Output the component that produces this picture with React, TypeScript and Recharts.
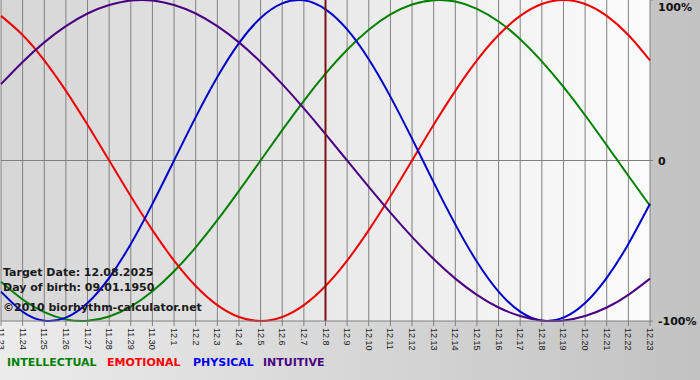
import { CartesianGrid, Line, LineChart, ReferenceLine, XAxis, YAxis } from 'recharts';

// days shown on the axis (month.day)
const days = [
  '11.23', '11.24', '11.25', '11.26', '11.27', '11.28', '11.29', '11.30',
  '12.1', '12.2', '12.3', '12.4', '12.5', '12.6', '12.7', '12.8', '12.9', '12.10',
  '12.11', '12.12', '12.13', '12.14', '12.15', '12.16', '12.17', '12.18', '12.19',
  '12.20', '12.21', '12.22', '12.23',
];

const physical = [
  -0.817, -0.942, -0.998, -0.979, -0.888, -0.731, -0.52, -0.27, 0, 0.27, 0.52,
  0.731, 0.888, 0.979, 0.998, 0.942, 0.817, 0.631, 0.398, 0.136, -0.136, -0.398,
  -0.631, -0.817, -0.942, -0.998, -0.979, -0.888, -0.731, -0.52, -0.27,
];
const emotional = [
  0.901, 0.782, 0.624, 0.434, 0.223, 0, -0.223, -0.434, -0.624, -0.782, -0.901,
  -0.975, -1, -0.975, -0.901, -0.782, -0.624, -0.434, -0.223, 0, 0.223, 0.434,
  0.624, 0.782, 0.901, 0.975, 1, 0.975, 0.901, 0.782, 0.624,
];
const intellectual = [
  -0.756, -0.866, -0.945, -0.99, -0.999, -0.972, -0.91, -0.815, -0.69, -0.541,
  -0.372, -0.189, 0, 0.189, 0.372, 0.541, 0.69, 0.815, 0.91, 0.972, 0.999, 0.99,
  0.945, 0.866, 0.756, 0.618, 0.458, 0.282, 0.095, -0.095, -0.282,
];
const intuitive = [
  0.476, 0.614, 0.736, 0.837, 0.916, 0.969, 0.997, 0.997, 0.969, 0.916, 0.837,
  0.736, 0.614, 0.476, 0.325, 0.165, 0, -0.165, -0.325, -0.476, -0.614, -0.736,
  -0.837, -0.916, -0.969, -0.997, -0.997, -0.969, -0.916, -0.837, -0.736,
];

const targetDay = '12.8';
const infoLines = ['Target Date: 12.08.2025', 'Day of birth: 09.01.1950', '\u00a92010 biorhythm-calculator.net'];

const legendItems = [
  { label: 'INTELLECTUAL', color: '#008000', left: 7 },
  { label: 'EMOTIONAL', color: '#ff0000', left: 107 },
  { label: 'PHYSICAL', color: '#0000ee', left: 193 },
  { label: 'INTUITIVE', color: '#4b0082', left: 263 },
];

const data = days.map((day, i) => ({
  day,
  intellectual: intellectual[i],
  emotional: emotional[i],
  physical: physical[i],
  intuitive: intuitive[i],
}));

const BOLD = '"DejaVu Sans", Verdana, sans-serif';

const DayTick = ({ x, y, payload }: any) => (
  <text
    x={x}
    y={y}
    transform={`rotate(90 ${x} ${y})`}
    textAnchor="start"
    dominantBaseline="central"
    fontFamily='"Liberation Sans", Arial, sans-serif'
    fontSize={9}
    fill="#1a1a1a"
  >
    {payload.value}
  </text>
);

// top label sits inside the chart, just below the 100% line
const PercentTick = ({ x, y, payload }: any) => {
  const v = payload.value;
  const label = v === 1 ? '100%' : v === -1 ? '-100%' : '0';
  return (
    <text x={x} y={v === 1 ? 11 : y + 4} textAnchor="start" fontFamily={BOLD} fontWeight="bold" fontSize={11} fill="#111">
      {label}
    </text>
  );
};

export default function App() {
  return (
    <div
      style={{
        position: 'absolute',
        left: 0,
        top: 0,
        width: 700,
        height: 380,
        background: 'linear-gradient(to right, #ececec, #c2c2c2)',
        overflow: 'hidden',
      }}
    >
      <LineChart width={700} height={380} data={data} margin={{ top: 0, right: 0, left: 1, bottom: 29 }}>
        <defs>
          <linearGradient id="plotBg" x1="0" y1="0" x2="1" y2="0">
            <stop offset="0%" stopColor="#d6d6d6" />
            <stop offset="100%" stopColor="#fcfcfc" />
          </linearGradient>
        </defs>
        <CartesianGrid horizontal={false} stroke="#808080" fill="url(#plotBg)" fillOpacity={1} />
        <XAxis
          dataKey="day"
          scale="point"
          padding={{ left: 0, right: 0 }}
          interval={0}
          height={30}
          tickSize={5}
          tickMargin={2}
          stroke="#808080"
          tick={<DayTick />}
        />
        <YAxis
          orientation="right"
          type="number"
          domain={[-1, 1]}
          ticks={[-1, 0, 1]}
          width={50}
          axisLine={false}
          tickSize={3}
          tickMargin={5}
          stroke="#808080"
          tick={<PercentTick />}
        />
        <ReferenceLine y={0} stroke="#808080" />
        <Line type="natural" dataKey="intellectual" stroke="#008000" strokeWidth={2} dot={false} isAnimationActive={false} />
        <Line type="natural" dataKey="emotional" stroke="#ee0000" strokeWidth={2} dot={false} isAnimationActive={false} />
        <Line type="natural" dataKey="physical" stroke="#0000cc" strokeWidth={2} dot={false} isAnimationActive={false} />
        <Line type="natural" dataKey="intuitive" stroke="#4b0082" strokeWidth={2} dot={false} isAnimationActive={false} />
        <ReferenceLine x={targetDay} stroke="#7a1010" strokeWidth={2} />
      </LineChart>
      {infoLines.map((t, i) => (
        <div
          key={t}
          style={{
            position: 'absolute',
            left: 3,
            top: [267, 282, 302][i],
            fontFamily: BOLD,
            fontWeight: 'bold',
            fontSize: 11,
            lineHeight: '11px',
            color: '#1a1a1a',
            whiteSpace: 'nowrap',
          }}
        >
          {t}
        </div>
      ))}
      {legendItems.map((it) => (
        <div
          key={it.label}
          style={{
            position: 'absolute',
            left: it.left,
            top: 357,
            fontFamily: BOLD,
            fontWeight: 'bold',
            fontSize: 11,
            lineHeight: '11px',
            color: it.color,
            whiteSpace: 'nowrap',
          }}
        >
          {it.label}
        </div>
      ))}
    </div>
  );
}
